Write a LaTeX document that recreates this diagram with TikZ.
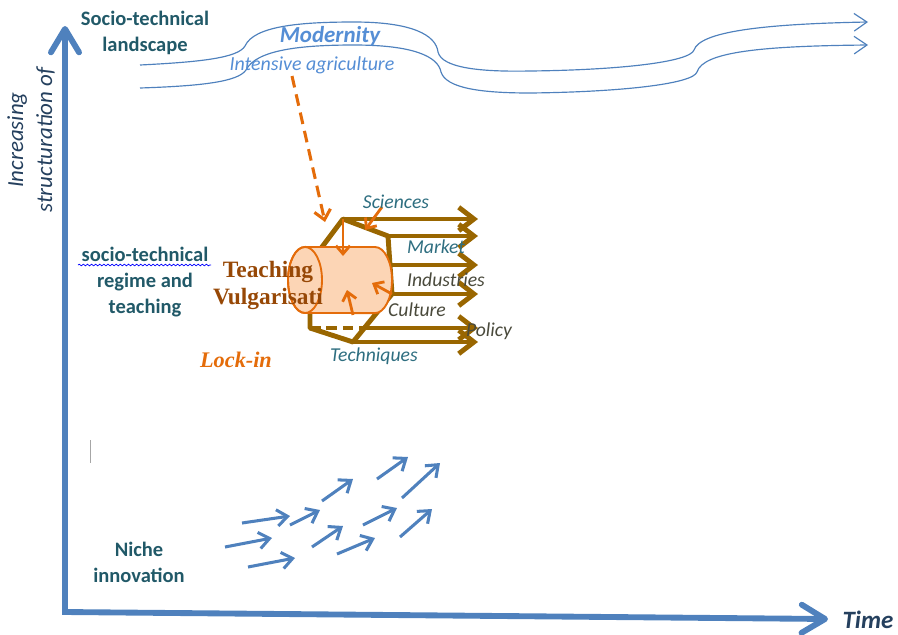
\documentclass[tikz,border=0pt]{standalone}
\usepackage{fontspec}
\setmainfont{Carlito}
\newfontfamily\camb{Liberation Serif}
\usepackage{xcolor}
\usetikzlibrary{arrows.meta,decorations.pathmorphing}

\definecolor{axisblue}{HTML}{4F81BD}
\definecolor{tealtxt}{HTML}{215968}
\definecolor{sidetxt}{HTML}{25405E}
\definecolor{skyblue}{HTML}{558ED5}
\definecolor{ochre}{RGB}{153,102,0}
\definecolor{orng}{HTML}{E46C0A}
\definecolor{peach}{HTML}{FCD5B5}
\definecolor{rust}{HTML}{974806}
\definecolor{tagblue}{HTML}{2E6E80}
\definecolor{taggrey}{HTML}{4A4A3C}

\begin{document}
\begin{tikzpicture}[x=0.03cm,y=-0.03cm,
  lvl/.style={font=\fontsize{17.5}{22}\selectfont\bfseries, text=tealtxt, align=center},
  tag/.style={font=\fontsize{16.8}{20}\selectfont\itshape},
  axis/.style={axisblue, line width=5pt,
    {Straight Barb[length=20pt,width=24pt,round]}-{Straight Barb[length=20pt,width=24pt,round]}},
  wave/.style={axisblue, line width=1pt, -{Straight Barb[length=11pt,width=15pt]}},
  flow/.style={ochre, line width=4.2pt, -{Straight Barb[length=13pt,width=20pt]}},
  push/.style={orng, line width=2.4pt, -{Straight Barb[length=7pt,width=12pt]}},
  niche/.style={axisblue, line width=2.6pt, -{Straight Barb[length=9pt,width=14pt]}},
  rim/.style={x radius=14.5pt, y radius=28.2pt}
]
  \useasboundingbox (0,0) rectangle (898,634);

  % axes
  \coordinate (origin) at (65,612);
  \coordinate (ytop) at (65,26);
  \coordinate (xend) at (828,619);
  \draw[axis, line join=miter] (ytop) -- (origin) -- (xend);
  \node[font=\fontsize{21.3}{24}\selectfont\bfseries\itshape, text=sidetxt] (time) at (868,620) {Time};
  \node[font=\fontsize{19.6}{24.7}\selectfont\itshape, text=sidetxt, align=center, rotate=90]
    (ylabel) at (31,140) {Increasing\\structuration of};

  % level labels
  \node[lvl] (land) at (145,33) {Socio-technical\\landscape};
  \node[lvl] (regime) at (145,282) {socio-technical\\regime and\\teaching};
  \node[lvl] (nicheinno) at (139,562) {Niche\\innovation};
  \draw[blue, line width=0.6pt, decorate, decoration={snake, amplitude=0.7pt, segment length=3.5pt}]
    (78,265) -- (211,265);
  \draw[gray!70, line width=0.8pt] (90,440) -- (90,463);

  % landscape
  \draw[wave] (140,65) .. controls (200,62) and (238,58) .. (245,46)
    .. controls (254,26) and (300,22) .. (354,22)
    .. controls (412,22) and (436,35) .. (438,52)
    .. controls (442,68) and (480,72) .. (530,71)
    .. controls (620,70) and (690,62) .. (694,50)
    .. controls (700,32) and (760,24) .. (868,22);
  \draw[wave] (140,88) .. controls (200,86) and (238,82) .. (246,70)
    .. controls (256,50) and (300,45) .. (354,45)
    .. controls (412,45) and (438,56) .. (441,72)
    .. controls (446,88) and (480,93) .. (530,93)
    .. controls (620,92) and (693,84) .. (697,72)
    .. controls (703,52) and (760,46) .. (868,45);
  \node[font=\fontsize{19.6}{22}\selectfont\bfseries\itshape, text=skyblue] (modern) at (330,36) {Modernity};
  \node[font=\fontsize{17}{20}\selectfont\itshape, text=skyblue] (agri) at (312,65) {Intensive agriculture};

  % regime frame
  \coordinate (ptop) at (343,219);
  \coordinate (psci) at (388,236);
  \coordinate (pmid) at (390,265);
  \coordinate (pright) at (392,294);
  \coordinate (pcult) at (364,328);
  \coordinate (ptech) at (353,342);
  \coordinate (pleft) at (310,328);
  \coordinate (pleftup) at (310,263);
  \coordinate (edge) at (478,0);

  \draw[ochre, line width=4.2pt, line join=round] (ptop) -- (psci) -- (pright) -- (ptech)
    -- (pleft) -- (pleftup) -- cycle;
  \draw[ochre, line width=4.2pt, dash pattern=on 9pt off 5pt] (pleft) -- (pcult);
  \draw[flow] (ptop) -- (ptop -| edge);
  \draw[flow] (psci) -- (psci -| edge);
  \draw[flow] (pmid) -- (pmid -| edge);
  \draw[flow] (pright) -- (pright -| edge);
  \draw[flow] (pcult) -- (pcult -| edge);
  \draw[flow] (ptech) -- (ptech -| edge);

  % teaching cylinder
  \coordinate (cylleft) at (305,280);
  \draw[orng, line width=1.6pt, fill=peach] (305,247) -- (375,247)
    arc[start angle=90, end angle=-90, rim] -- (305,313)
    arc[start angle=270, end angle=90, rim] -- cycle;
  \draw[orng, line width=1.6pt] (cylleft) ellipse[rim];

  % pressures
  \coordinate (pull) at (292,76);
  \coordinate (cylin) at (325,222);
  \coordinate (scifrom) at (382,207);
  \coordinate (scito) at (365,230);
  \coordinate (topto) at (343,256);
  \coordinate (botfrom) at (353,315);
  \coordinate (botto) at (347,290);
  \coordinate (rightto) at (372,283);
  \draw[orng, line width=2.6pt, dash pattern=on 10pt off 6pt,
    -{Straight Barb[length=8pt,width=14pt]}] (pull) -- (cylin);
  \draw[push] (scifrom) -- (scito);
  \draw[push] (ptop) -- (topto);
  \draw[push] (botfrom) -- (botto);
  \draw[push] (pright) -- (rightto);

  \node[font=\camb\bfseries\fontsize{20}{23}\selectfont, text=rust, align=center]
    (teach) at (268,285) {Teaching\\Vulgarisati};
  \node[font=\camb\bfseries\itshape\fontsize{19}{22}\selectfont, text=orng] (lock) at (236,360) {Lock-in};

  \node[tag, text=tagblue] (sci) at (396,202) {Sciences};
  \node[tag, text=tagblue] (market) at (436,247) {Market};
  \node[tag, text=taggrey] (indus) at (446,280) {Industries};
  \node[tag, text=taggrey] (cult) at (417,310) {Culture};
  \node[tag, text=taggrey] (policy) at (489,331) {Policy};
  \node[tag, text=tagblue] (techn) at (374,356) {Techniques};

  % niche arrows
  \draw[niche] (242,523) -- (290,516);
  \draw[niche] (290,525) -- (320,510);
  \draw[niche] (225,547) -- (272,538);
  \draw[niche] (248,567) -- (295,558);
  \draw[niche] (322,501) -- (353,479);
  \draw[niche] (312,547) -- (343,526);
  \draw[niche] (337,554) -- (375,538);
  \draw[niche] (377,479) -- (408,457);
  \draw[niche] (363,525) -- (397,508);
  \draw[niche] (402,498) -- (440,463);
  \draw[niche] (400,537) -- (432,509);
\end{tikzpicture}
\end{document}
